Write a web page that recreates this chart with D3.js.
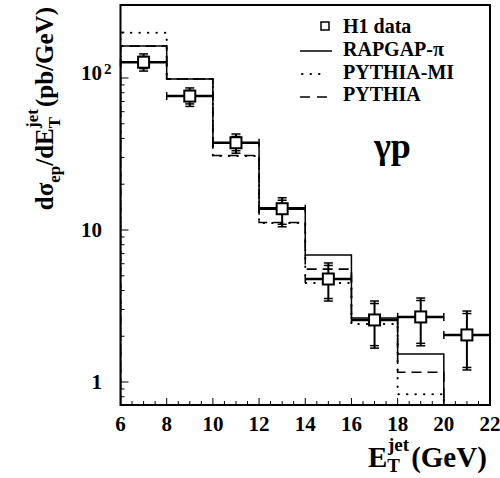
<!DOCTYPE html>
<html><head><meta charset="utf-8">
<script src="https://cdn.jsdelivr.net/npm/d3@7"></script>
<style>body{margin:0;background:#fff}svg{display:block}</style>
</head><body>
<svg id="c" width="500" height="478"></svg>
<script>
// ---- data ----
const binEdges = [6, 8, 10, 12, 14, 16, 18, 20, 22];
const dataCenters = [7, 9, 11, 13, 15, 17, 19, 21];
const h1Data = [127, 76, 37.5, 13.8, 4.76, 2.56, 2.68, 2.04];
const h1ErrUp = [144, 86, 42.8, 16.3, 6.07, 3.41, 3.57, 2.93];
const h1ErrDown = [111, 65, 32.0, 10.5, 3.41, 1.67, 1.73, 1.2];
const rapgapPi = [162, 98.5, 37.3, 14.0, 6.85, 2.64, 1.53];
const pythiaMI = [198, 98.5, 30.7, 11.1, 4.48, 2.41, 0.83];
const pythia = [162, 98.5, 30.9, 11.2, 5.53, 2.56, 1.16];
const xTicks = [6, 8, 10, 12, 14, 16, 18, 20, 22];
const yTicks = [1, 10, 100];
const legendLabels = ["H1 data", "RAPGAP-\u03c0", "PYTHIA-MI", "PYTHIA"];

const FONT = "'Liberation Serif','DejaVu Serif',serif";
const svg = d3.select("#c");
const L = 120.5, R = 490, T = 5, B = 405;
const x = d3.scaleLinear().domain([6, 22]).range([L, R]);
const y = d3.scaleLog().domain([0.706, 302]).range([B, T]);

svg.append("defs").append("clipPath").attr("id", "clip")
  .append("rect").attr("x", L).attr("y", T).attr("width", R - L).attr("height", B - T);

// ---- histograms ----
function stepPts(vals) {
  const pts = [[binEdges[0], y.domain()[0]]];
  vals.forEach((v, i) => { pts.push([binEdges[i], v]); pts.push([binEdges[i + 1], v]); });
  pts.push([binEdges[vals.length], y.domain()[0]]);
  return pts;
}
const line = d3.line().x(d => x(d[0])).y(d => y(d[1]));
const gH = svg.append("g").attr("clip-path", "url(#clip)");
gH.append("path").attr("d", line(stepPts(pythia))).attr("fill", "none")
  .attr("stroke", "#000").attr("stroke-width", 1.6).attr("stroke-dasharray", "10,6");
gH.append("path").attr("d", line(stepPts(pythiaMI))).attr("fill", "none")
  .attr("stroke", "#000").attr("stroke-width", 2).attr("stroke-linecap", "round").attr("stroke-dasharray", "0.5,8");
gH.append("path").attr("d", line(stepPts(rapgapPi))).attr("fill", "none")
  .attr("stroke", "#000").attr("stroke-width", 1.5);

// ---- data points ----
const gD = svg.append("g").attr("stroke", "#000").attr("fill", "none");
dataCenters.forEach((c, i) => {
  const xc = x(c), yc = y(h1Data[i]);
  const x0 = x(binEdges[i]), x1 = x(binEdges[i + 1]);
  const yu = y(h1ErrUp[i]), yd = y(h1ErrDown[i]);
  gD.append("line").attr("x1", x0).attr("x2", x1).attr("y1", yc).attr("y2", yc).attr("stroke-width", 2.5);
  gD.append("line").attr("x1", x0).attr("x2", x0).attr("y1", yc - 4).attr("y2", yc + 4).attr("stroke-width", 1.5);
  gD.append("line").attr("x1", x1).attr("x2", x1).attr("y1", yc - 4).attr("y2", yc + 4).attr("stroke-width", 1.5);
  gD.append("line").attr("x1", xc).attr("x2", xc).attr("y1", yu).attr("y2", yd).attr("stroke-width", 2);
  [yu, yd].forEach((yy, k) => {
    const s = k === 0 ? 1 : -1;
    gD.append("line").attr("x1", xc - 4.5).attr("x2", xc + 4.5).attr("y1", yy).attr("y2", yy).attr("stroke-width", 1.5);
    gD.append("line").attr("x1", xc - 4.5).attr("x2", xc + 4.5).attr("y1", yy + 2.5 * s).attr("y2", yy + 2.5 * s).attr("stroke-width", 1.5);
  });
  gD.append("rect").attr("x", xc - 5.5).attr("y", yc - 5.5).attr("width", 11).attr("height", 11)
    .attr("fill", "#fff").attr("stroke-width", 2);
});

// ---- axes ----
const gA = svg.append("g").attr("stroke", "#000").attr("stroke-width", 1);
d3.range(6, 22.001, 0.5).forEach(v => {
  const major = Math.abs(v % 2) < 1e-6;
  gA.append("line").attr("x1", x(v)).attr("x2", x(v)).attr("y1", B).attr("y2", B - (major ? 7 : 4));
});
[0.1, 1, 10, 100].forEach(d => {
  for (let m = 1; m <= 9; m++) {
    const v = d * m;
    if (v < y.domain()[0] || v > y.domain()[1]) continue;
    const major = m === 1;
    gA.append("line").attr("x1", L).attr("x2", L + (major ? 8 : 4)).attr("y1", y(v)).attr("y2", y(v));
  }
});
svg.append("rect").attr("x", L).attr("y", T).attr("width", R - L).attr("height", B - T)
  .attr("fill", "none").attr("stroke", "#000").attr("stroke-width", 2);

// tick labels
const gT = svg.append("g").attr("font-family", FONT).attr("font-weight", "bold").attr("fill", "#000");
xTicks.forEach(v => {
  gT.append("text").attr("x", x(v)).attr("y", 431).attr("text-anchor", "middle")
    .attr("font-size", 21).text(v);
});
yTicks.forEach(v => {
  if (v === 100) {
    gT.append("text").attr("x", 102).attr("y", y(v) + 2).attr("text-anchor", "end").attr("font-size", 21).text("10");
    gT.append("text").attr("x", 104).attr("y", y(v) - 4).attr("font-size", 15).text("2");
  } else {
    gT.append("text").attr("x", 102).attr("y", y(v) + 7).attr("text-anchor", "end").attr("font-size", 21).text(String(v));
  }
});

// axis titles
const xt = gT.append("text").attr("font-size", 29);
xt.append("tspan").attr("x", 368).attr("y", 467).text("E");
xt.append("tspan").attr("font-size", 19).attr("y", 472).text("T");
xt.append("tspan").attr("font-size", 19).attr("dx", -12).attr("y", 451).text("jet");
xt.append("tspan").attr("y", 467).attr("dx", 2).text("(GeV)");

const yt = gT.append("text").attr("font-size", 25).attr("text-anchor", "end")
  .attr("transform", "translate(53,7) rotate(-90)");
yt.append("tspan").text("d\u03c3");
yt.append("tspan").attr("font-size", 17).attr("dy", 7).text("ep");
yt.append("tspan").attr("dy", -7).text("/dE");
yt.append("tspan").attr("font-size", 17).attr("dy", 7).text("T");
yt.append("tspan").attr("font-size", 17).attr("dx", -11).attr("dy", -22).text("jet");
yt.append("tspan").attr("dy", 15).attr("dx", 2).text("(pb/GeV)");

// gamma p
gT.append("text").attr("x", 374).attr("y", 158).attr("font-size", 36).text("\u03b3p");

// ---- legend ----
const gL = svg.append("g");
gL.append("rect").attr("x", 321).attr("y", 22).attr("width", 8).attr("height", 8)
  .attr("fill", "none").attr("stroke", "#000").attr("stroke-width", 1.5);
gL.append("line").attr("x1", 300).attr("x2", 332).attr("y1", 51).attr("y2", 51).attr("stroke", "#000").attr("stroke-width", 1.5);
gL.append("line").attr("x1", 302).attr("x2", 326).attr("y1", 74).attr("y2", 74).attr("stroke", "#000")
  .attr("stroke-width", 2).attr("stroke-linecap", "round").attr("stroke-dasharray", "0.5,8");
gL.append("line").attr("x1", 300).attr("x2", 330).attr("y1", 97).attr("y2", 97).attr("stroke", "#000")
  .attr("stroke-width", 1.6).attr("stroke-dasharray", "10,7");
legendLabels.forEach((t, i) => {
  gL.append("text").attr("x", 343).attr("y", [33, 56, 79, 101][i]).attr("font-family", FONT)
    .attr("font-weight", "bold").attr("font-size", 20).text(t);
});
</script>
</body></html>
